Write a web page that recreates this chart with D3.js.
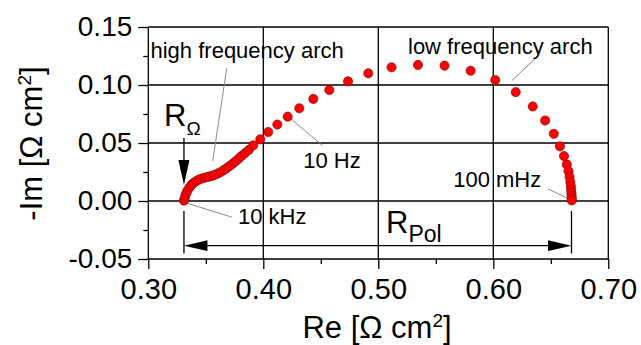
<!DOCTYPE html>
<html><head><meta charset="utf-8">
<script src="https://cdn.jsdelivr.net/npm/d3@7"></script>
<style>
body{margin:0;background:#fff}
svg{display:block;font-family:"Liberation Sans",Arial,Helvetica,sans-serif}
</style>
</head><body>
<svg id="chart" width="641" height="345"></svg>
<script>
// Impedance spectrum (Nyquist plot), 10 kHz down to 100 mHz
const reValues = [
  0.3310,0.3317,0.3323,0.3333,0.3345,0.3360,0.3377,0.3396,0.3417,0.3439,
  0.3463,0.3487,0.3511,0.3536,0.3560,0.3584,0.3609,0.3634,0.3658,0.3683,
  0.3707,0.3731,0.3757,0.3783,0.3810,0.3840,0.3874,0.3913,0.3974,0.4043,
  0.4122,0.4212,0.4313,0.4435,0.4574,0.4737,0.4913,0.5115,0.5345,0.5576,
  0.5803,0.6017,0.6195,0.6343,0.6451,0.6526,0.6580,0.6615,0.6639,0.6654,
  0.6663,0.6670,0.6674,0.6677,0.6679,0.6681,0.6682,0.6682
];
const imValues = [
  0.0003,0.0026,0.0050,0.0074,0.0098,0.0120,0.0140,0.0157,0.0172,0.0184,
  0.0193,0.0200,0.0206,0.0212,0.0219,0.0228,0.0239,0.0252,0.0267,0.0284,
  0.0301,0.0320,0.0341,0.0363,0.0387,0.0412,0.0440,0.0480,0.0532,0.0595,
  0.0659,0.0727,0.0799,0.0880,0.0957,0.1032,0.1101,0.1152,0.1173,0.1167,
  0.1123,0.1043,0.0938,0.0815,0.0694,0.0579,0.0471,0.0387,0.0315,0.0257,
  0.0208,0.0163,0.0127,0.0098,0.0070,0.0046,0.0024,0.0005
];
const xTicks = [0.30,0.40,0.50,0.60,0.70];
const xMinorTicks = [0.35,0.45,0.55,0.65];
const yTicks = [-0.05,0.00,0.05,0.10,0.15];
const yMinorTicks = [-0.025,0.025,0.075,0.125];
const rOhmic = 0.331;        // high-frequency intercept
const rTotal = 0.668;        // low-frequency intercept
const frequencyLabels = ["10 kHz","10 Hz","100 mHz"];
const frequencyIndex = [0,31,57];
const archLabels = ["high frequency arch","low frequency arch"];
const archIndex = [14,42];

const svg = d3.select("#chart");
const x = d3.scaleLinear().domain([0.30,0.70]).range([148.3,608.3]);
const y = d3.scaleLinear().domain([-0.05,0.15]).range([259,27]);
const fmt = d => d.toFixed(2);
const ink = "#000";

// grid
const grid = svg.append("g").attr("stroke",ink).attr("stroke-width",1.3);
grid.selectAll(".gx").data(xTicks).join("line")
  .attr("x1",d=>x(d)).attr("x2",d=>x(d)).attr("y1",y(0.15)).attr("y2",y(-0.05));
grid.selectAll(".gy").data(yTicks).join("line")
  .attr("y1",d=>y(d)).attr("y2",d=>y(d)).attr("x1",x(0.30)).attr("x2",x(0.70));

// axes
function styleAxis(g){
  g.select(".domain").remove();
  g.selectAll(".tick line").attr("stroke",ink).attr("stroke-width",1.3);
  g.selectAll("text").attr("fill",ink).attr("font-family","'Liberation Sans',Arial,sans-serif");
}
const gx = svg.append("g").attr("transform",`translate(0,${y(-0.05)})`)
  .call(d3.axisBottom(x).tickValues(xTicks).tickFormat(fmt).tickSize(10).tickPadding(9))
  .call(styleAxis);
gx.selectAll("text").attr("font-size",29);
svg.append("g").attr("transform",`translate(0,${y(-0.05)})`)
  .call(d3.axisBottom(x).tickValues(xMinorTicks).tickFormat("").tickSize(5))
  .call(styleAxis);
const gy = svg.append("g").attr("transform",`translate(${x(0.30)},0)`)
  .call(d3.axisLeft(y).tickValues(yTicks).tickFormat(fmt).tickSize(10).tickPadding(6))
  .call(styleAxis);
gy.selectAll("text").attr("font-size",28);
svg.append("g").attr("transform",`translate(${x(0.30)},0)`)
  .call(d3.axisLeft(y).tickValues(yMinorTicks).tickFormat("").tickSize(5))
  .call(styleAxis);

// axis titles
const xt = svg.append("text").attr("x",377).attr("y",338).attr("text-anchor","middle")
  .attr("font-size",31).attr("fill",ink);
xt.append("tspan").text("Re [\u03A9 cm");
xt.append("tspan").attr("dy",-11).attr("font-size",19).text("2");
xt.append("tspan").attr("dy",11).text("]");
const yt = svg.append("text").attr("transform","translate(41.5,143.5) rotate(-90)")
  .attr("text-anchor","middle").attr("font-size",31).attr("fill",ink);
yt.append("tspan").text("-Im [\u03A9 cm");
yt.append("tspan").attr("dy",-11).attr("font-size",19).text("2");
yt.append("tspan").attr("dy",11).text("]");

// leader lines and annotation text
const lead = svg.append("g").attr("stroke","#8c8c8c").attr("stroke-width",1);
const P = i => [x(reValues[i]), y(imValues[i])];
const ann = svg.append("g").attr("fill",ink).attr("font-size",22);

// 10 kHz
let p = P(frequencyIndex[0]);
lead.append("line").attr("x1",p[0]+3).attr("y1",p[1]+2.5).attr("x2",p[0]+48).attr("y2",p[1]+16.5);
ann.append("text").attr("x",p[0]+54).attr("y",p[1]+23).text(frequencyLabels[0]);
// 10 Hz
p = P(frequencyIndex[1]);
lead.append("line").attr("x1",p[0]+3).attr("y1",p[1]+2).attr("x2",p[0]+35).attr("y2",p[1]+29);
ann.append("text").attr("x",p[0]+15.5).attr("y",p[1]+51).text(frequencyLabels[1]);
// 100 mHz
p = P(frequencyIndex[2]);
lead.append("line").attr("x1",p[0]-5).attr("y1",p[1]-2.5).attr("x2",p[0]-23.5).attr("y2",p[1]-11.5);
ann.append("text").attr("x",p[0]-118.5).attr("y",p[1]-13).text(frequencyLabels[2]);
// high frequency arch
p = P(archIndex[0]);
lead.append("line").attr("x1",p[0]).attr("y1",p[1]-14.5).attr("x2",p[0]+14).attr("y2",p[1]-107);
ann.append("text").attr("x",150.5).attr("y",57.5).text(archLabels[0]);
// low frequency arch
p = P(archIndex[1]);
lead.append("line").attr("x1",p[0]-4).attr("y1",p[1]-11.5).attr("x2",p[0]+19.5).attr("y2",p[1]-33.5);
ann.append("text").attr("x",408).attr("y",53.5).text(archLabels[1]);

// data points
svg.append("g").selectAll("circle").data(reValues).join("circle")
  .attr("cx",(d,i)=>x(d)).attr("cy",(d,i)=>y(imValues[i])).attr("r",4.6)
  .attr("fill","#ff0000").attr("stroke","#8a1010").attr("stroke-width",0.7);

// R_Omega marker
const arr = svg.append("g").attr("stroke",ink).attr("stroke-width",1.3);
const xo = x(rOhmic), xe = x(rTotal);
arr.append("line").attr("x1",xo).attr("x2",xo).attr("y1",138).attr("y2",161);
svg.append("path").attr("fill",ink)
  .attr("d",`M${xo-5.5},160 L${xo+5.5},160 L${xo},185 Z`);
const ro = svg.append("text").attr("x",164).attr("y",126).attr("font-size",31).attr("fill",ink);
ro.append("tspan").text("R");
ro.append("tspan").attr("dy",9).attr("font-size",19).text("\u03A9");

// R_Pol span
arr.append("line").attr("x1",xo).attr("x2",xo).attr("y1",211).attr("y2",253.5);
arr.append("line").attr("x1",xe).attr("x2",xe).attr("y1",211).attr("y2",253.5);
arr.append("line").attr("x1",xo+20).attr("x2",xe-20).attr("y1",245.7).attr("y2",245.7);
svg.append("path").attr("fill",ink)
  .attr("d",`M${xo},245.7 L${xo+23.5},240.3 L${xo+23.5},251.1 Z`);
svg.append("path").attr("fill",ink)
  .attr("d",`M${xe},245.7 L${xe-23.5},240.3 L${xe-23.5},251.1 Z`);
const rp = svg.append("text").attr("x",386).attr("y",233.3).attr("font-size",31).attr("fill",ink);
rp.append("tspan").text("R");
rp.append("tspan").attr("dy",8.4).attr("font-size",23).text("Pol");
</script>
</body></html>
